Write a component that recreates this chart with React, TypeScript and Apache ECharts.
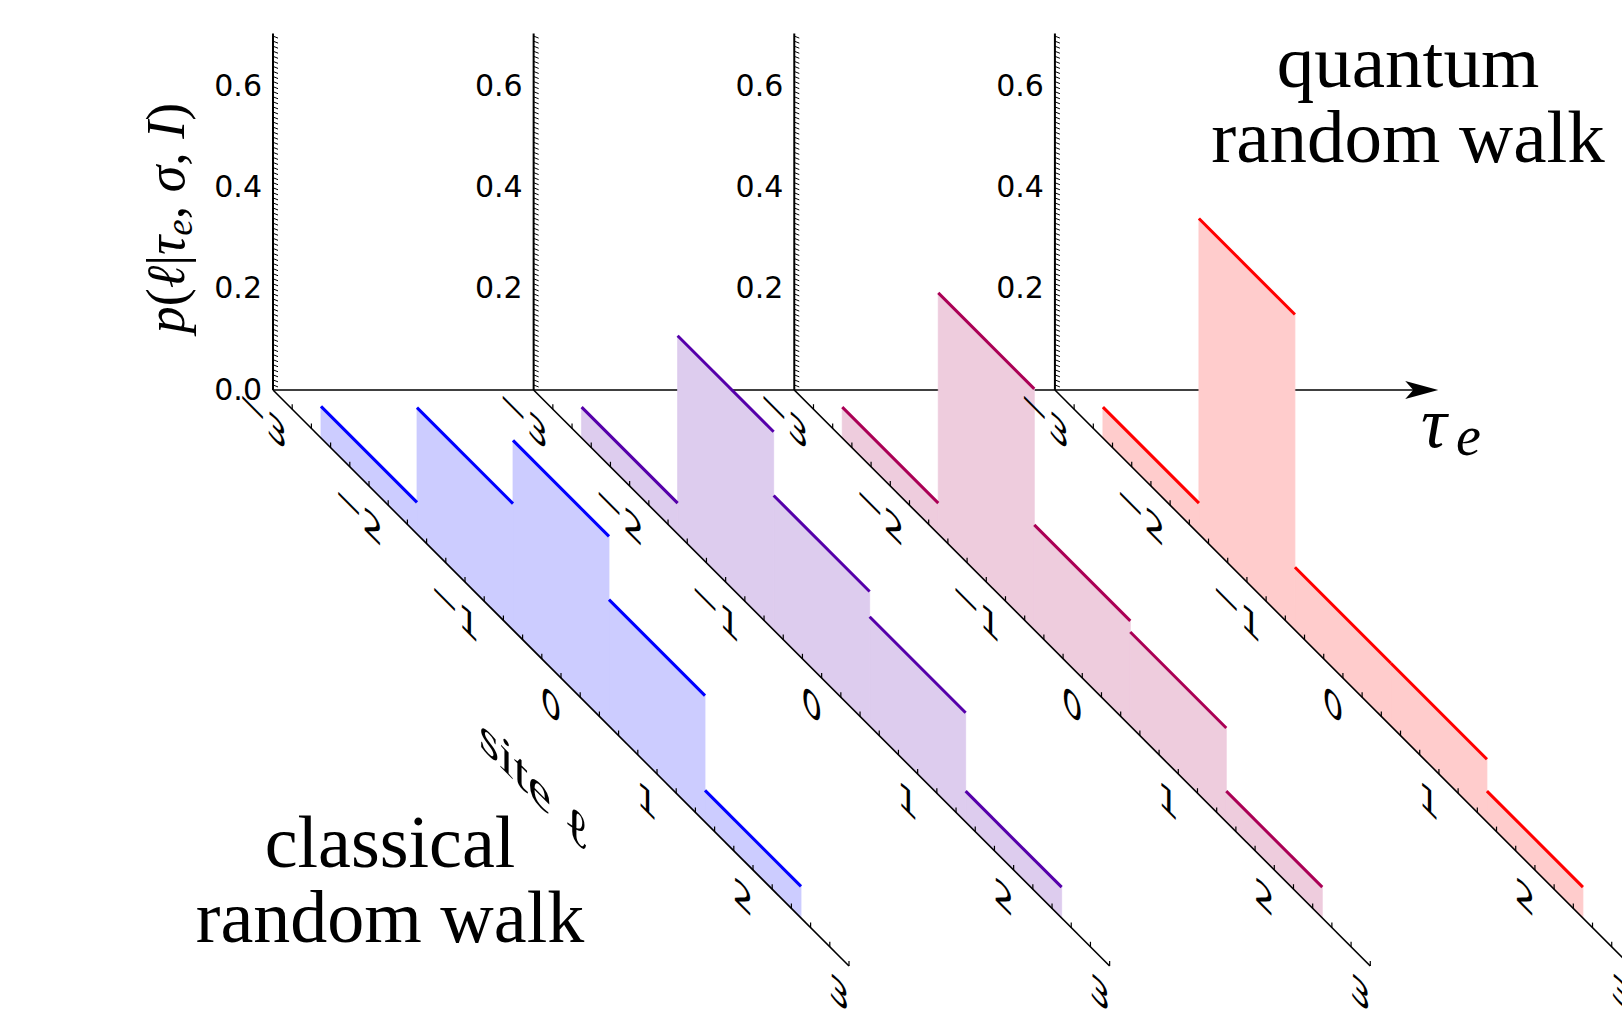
import React, { useEffect, useRef } from "react";
import * as echarts from "echarts";

// ---------------- data ----------------
const sites = [-2, -1, 0, 1, 2];
const pClassical = [0.0625, 0.25, 0.375, 0.25, 0.0625];
const pMixA = [0.061, 0.392, 0.266, 0.216, 0.061];
const pMixB = [0.061, 0.477, 0.208, 0.186, 0.061];
const pQuantum = [0.061, 0.624, 0.124, 0.124, 0.061];
const panelProbabilities = [pClassical, pMixA, pMixB, pQuantum];
const panelIndices = [0, 1, 2, 3];
const pTickValues = [0.0, 0.2, 0.4, 0.6];
const pTickLabels = ["0.0", "0.2", "0.4", "0.6"];
const siteTickValues = [-3, -2, -1, 0, 1, 2, 3];
const siteTickLabels = ["\u22123", "\u22122", "\u22121", "0", "1", "2", "3"];

// ---------------- styles / geometry ----------------
const lineColors = ["#0000ff", "#5500aa", "#aa0055", "#ff0000"];
const fillColors = ["#ccccff", "#ddccee", "#eeccdd", "#ffcccc"];
const SITE_MIN = -3;
const SITE_MAX = 3;
const P_MAX = 0.705;
const PANEL_GAP = 2.715; // horizontal offset between panels, in site units
const TAU_END = 12.138; // end of tau axis, in site units
const PX_SITE = 96;
const PX_P = 505.6;
const SLOPE = PX_SITE / PX_P;
const ORIGIN_X = 273;
const ORIGIN_Y = 390;
const X_MAX = 13;
const Y_MIN = -1.2;
const Y_MAX = 0.76;

const SERIF = "'Liberation Serif', 'DejaVu Serif', serif";
const SANS = "'DejaVu Sans', sans-serif";

function proj(panel: number, l: number, p: number): number[] {
  const d = l - SITE_MIN;
  return [panel * PANEL_GAP + d, p - d * SLOPE];
}

function txtStyle(text: string, font: string, align: string, valign: string, extra: any = {}) {
  return {
    text,
    font,
    fill: "#000",
    align,
    verticalAlign: valign,
    textAlign: align,
    textVerticalAlign: valign,
    ...extra,
  };
}

export default function App() {
  const ref = useRef<HTMLDivElement>(null);

  useEffect(() => {
    if (!ref.current) return;
    const chart = echarts.init(ref.current, null, { renderer: "svg" });

    const fillSeries = panelIndices.map((i) => ({
      type: "custom",
      coordinateSystem: "cartesian2d",
      clip: false,
      silent: true,
      z: 2,
      data: sites.map((l, j) => [l, panelProbabilities[i][j]]),
      renderItem: (_params: any, api: any) => {
        const l = api.value(0);
        const p = api.value(1);
        const pts = [
          proj(i, l - 0.5, 0),
          proj(i, l - 0.5, p),
          proj(i, l + 0.5, p),
          proj(i, l + 0.5, 0),
        ].map((c) => api.coord(c));
        return {
          type: "polygon",
          shape: { points: pts },
          style: { fill: fillColors[i], stroke: fillColors[i], lineWidth: 0.8 },
        };
      },
    }));

    const lineSeries = panelIndices.map((i) => ({
      type: "custom",
      coordinateSystem: "cartesian2d",
      clip: false,
      silent: true,
      z: 4,
      data: sites.map((l, j) => [l, panelProbabilities[i][j]]),
      renderItem: (_params: any, api: any) => {
        const l = api.value(0);
        const p = api.value(1);
        const a = api.coord(proj(i, l - 0.5, p));
        const b = api.coord(proj(i, l + 0.5, p));
        return {
          type: "line",
          shape: { x1: a[0], y1: a[1], x2: b[0], y2: b[1] },
          style: { stroke: lineColors[i], lineWidth: 3 },
        };
      },
    }));

    const tauAxisSeries = {
      type: "custom",
      coordinateSystem: "cartesian2d",
      clip: false,
      silent: true,
      z: 1,
      data: [[0, 0]],
      renderItem: (_params: any, api: any) => {
        const a = api.coord(proj(0, SITE_MIN, 0));
        const b = api.coord([TAU_END, 0]);
        return {
          type: "group",
          children: [
            {
              type: "line",
              shape: { x1: a[0], y1: a[1], x2: b[0] - 20, y2: b[1] },
              style: { stroke: "#000", lineWidth: 1.6 },
            },
            {
              type: "polygon",
              shape: {
                points: [
                  [b[0], b[1]],
                  [b[0] - 33, b[1] - 9],
                  [b[0] - 25, b[1]],
                  [b[0] - 33, b[1] + 9],
                ],
              },
              style: { fill: "#000" },
            },
          ],
        };
      },
    };

    const axesSeries = {
      type: "custom",
      coordinateSystem: "cartesian2d",
      clip: false,
      silent: true,
      z: 3,
      data: panelIndices.map((i) => [i, 0]),
      renderItem: (_params: any, api: any) => {
        const panel = api.value(0);
        const children: any[] = [];
        const o = api.coord(proj(panel, SITE_MIN, 0));
        const top = api.coord(proj(panel, SITE_MIN, P_MAX));
        // vertical p axis
        children.push({
          type: "line",
          shape: { x1: o[0], y1: o[1], x2: top[0], y2: top[1] },
          style: { stroke: "#000", lineWidth: 2 },
        });
        for (let k = 1; k <= 70; k++) {
          const a = api.coord(proj(panel, SITE_MIN, k / 100));
          children.push({
            type: "line",
            shape: { x1: a[0], y1: a[1], x2: a[0] + 5, y2: a[1] + 2 },
            style: { stroke: "#000", lineWidth: 1 },
          });
        }
        // diagonal site axis
        const e = api.coord(proj(panel, SITE_MAX, 0));
        children.push({
          type: "line",
          shape: { x1: o[0], y1: o[1], x2: e[0], y2: e[1] },
          style: { stroke: "#000", lineWidth: 1.6 },
        });
        for (let k = 1; k <= 30; k++) {
          const a = api.coord(proj(panel, SITE_MIN + k / 5, 0));
          children.push({
            type: "line",
            shape: { x1: a[0], y1: a[1], x2: a[0], y2: a[1] - 5 },
            style: { stroke: "#000", lineWidth: 1.2 },
          });
        }
        // p tick labels
        pTickValues.forEach((v, idx) => {
          if (panel > 0 && v === 0) return;
          const a = api.coord(proj(panel, SITE_MIN, v));
          children.push({
            type: "text",
            x: a[0] - 11,
            y: a[1] - 1,
            style: txtStyle(pTickLabels[idx], `30px ${SANS}`, "right", "middle"),
          });
        });
        // site tick labels (lying in the slanted plane)
        siteTickValues.forEach((v, idx) => {
          const a = api.coord(proj(panel, v, 0));
          children.push({
            type: "text",
            x: a[0] - 10,
            y: a[1] + 27,
            scaleY: 1.0,
            skewY: -Math.PI / 4,
            style: txtStyle(siteTickLabels[idx], `33px ${SANS}`, "center", "middle", {
              lineHeight: 20,
            }),
          });
        });
        return { type: "group", children };
      },
    };

    const option: any = {
      animation: false,
      backgroundColor: "#ffffff",
      grid: {
        left: ORIGIN_X,
        top: ORIGIN_Y - Y_MAX * PX_P,
        width: X_MAX * PX_SITE,
        height: (Y_MAX - Y_MIN) * PX_P,
        containLabel: false,
      },
      xAxis: { type: "value", min: 0, max: X_MAX, show: false },
      yAxis: { type: "value", min: Y_MIN, max: Y_MAX, show: false },
      series: [tauAxisSeries, ...fillSeries, axesSeries, ...lineSeries],
      graphic: [
        {
          type: "text",
          x: 1408,
          y: 99,
          style: txtStyle("quantum\nrandom walk", `75px ${SERIF}`, "center", "middle", {
            lineHeight: 75,
          }),
        },
        {
          type: "text",
          x: 390,
          y: 879,
          style: txtStyle("classical\nrandom walk", `74px ${SERIF}`, "center", "middle", {
            lineHeight: 75,
          }),
        },
        {
          type: "text",
          x: 1421,
          y: 423,
          style: txtStyle("\u03c4", `italic 72px ${SERIF}`, "left", "middle"),
        },
        {
          type: "text",
          x: 1456,
          y: 436,
          style: txtStyle("e", `italic 56px ${SERIF}`, "left", "middle"),
        },
        {
          type: "text",
          x: 534,
          y: 784,
          scaleY: 0.95,
          skewY: -Math.PI / 4,
          style: txtStyle("site \u2113", `52px ${SERIF}`, "center", "middle"),
        },
        {
          type: "text",
          x: 166,
          y: 218,
          rotation: Math.PI / 2,
          style: {
            text: "{i|p}{r|(}{i|\u2113}{r||}{i|\u03c4}{s|e}{r|, }{i|\u03c3}{r|, }{i|I}{r|)}",
            fill: "#000",
            align: "center",
            verticalAlign: "middle",
            textAlign: "center",
            textVerticalAlign: "middle",
            rich: {
              i: { font: `italic 54px ${SERIF}`, lineHeight: 64, fill: "#000" },
              r: { font: `54px ${SERIF}`, lineHeight: 64, fill: "#000" },
              s: { font: `italic 37px ${SERIF}`, lineHeight: 34, verticalAlign: "bottom", fill: "#000" },
            },
          },
        },
      ],
    };

    chart.setOption(option);
    return () => {
      chart.dispose();
    };
  }, []);

  return (
    <div
      ref={ref}
      style={{
        position: "fixed",
        left: 0,
        top: 0,
        width: "1622px",
        height: "1014px",
        background: "#fff",
      }}
    />
  );
}
